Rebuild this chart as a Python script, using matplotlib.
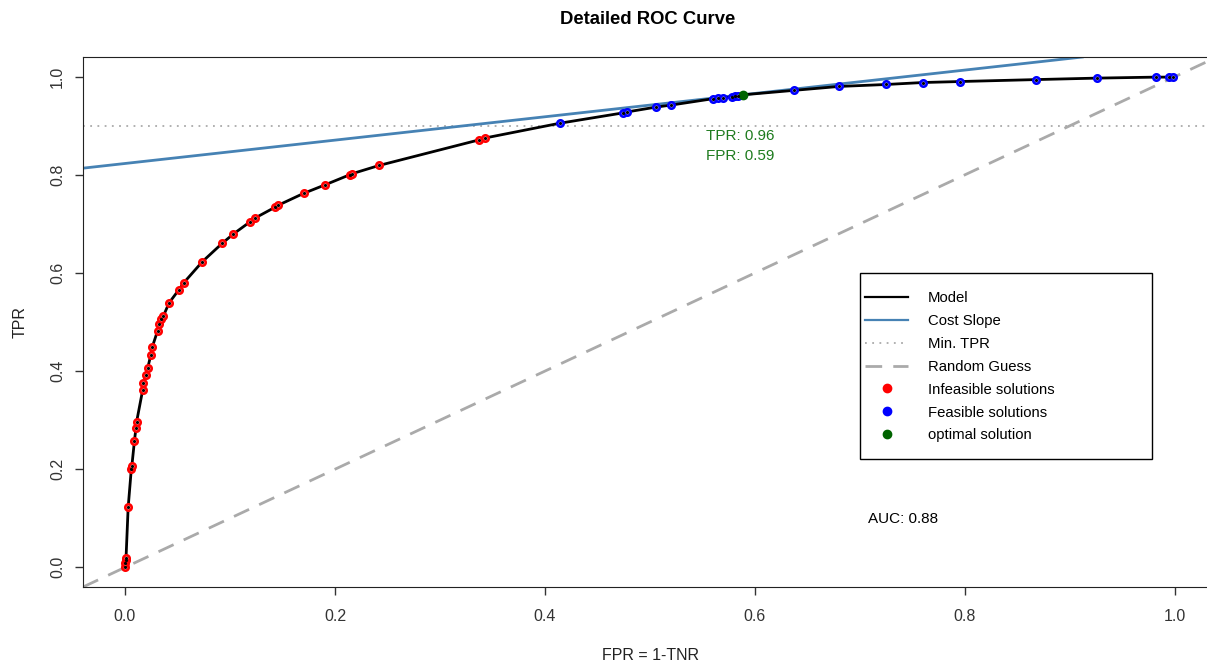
import matplotlib.pyplot as plt
from matplotlib.lines import Line2D
from matplotlib.patches import Rectangle

plt.rcParams['font.family'] = ['Liberation Sans', 'DejaVu Sans']

# ROC points
infeasible_fpr = [0.0, 0.0, 0.0005, 0.001, 0.003, 0.006, 0.0065, 0.009, 0.0105, 0.011,
                  0.0168, 0.0175, 0.0197, 0.0216, 0.0245, 0.026, 0.031, 0.0327,
                  0.0343, 0.0365, 0.042, 0.0514, 0.056, 0.0737, 0.0924, 0.103,
                  0.119, 0.124, 0.143, 0.146, 0.170, 0.190, 0.214, 0.216, 0.242,
                  0.337, 0.343]
infeasible_tpr = [0.0, 0.008, 0.015, 0.02, 0.122, 0.200, 0.206, 0.258, 0.285, 0.296,
                  0.361, 0.375, 0.392, 0.406, 0.432, 0.449, 0.482, 0.495,
                  0.506, 0.512, 0.539, 0.566, 0.580, 0.623, 0.660, 0.679,
                  0.704, 0.712, 0.734, 0.738, 0.762, 0.779, 0.800, 0.802, 0.819,
                  0.871, 0.875]
feasible_fpr = [0.414, 0.474, 0.478, 0.506, 0.520, 0.560, 0.565, 0.570, 0.578,
                0.581, 0.584, 0.637, 0.680, 0.725, 0.760, 0.795, 0.868, 0.926,
                0.982, 0.994, 0.998]
feasible_tpr = [0.905, 0.926, 0.928, 0.938, 0.942, 0.955, 0.956, 0.957, 0.959,
                0.961, 0.961, 0.972, 0.980, 0.984, 0.988, 0.990, 0.994, 0.997,
                0.999, 0.999, 0.999]
optimal_fpr = 0.589
optimal_tpr = 0.963
cost_intercept = 0.823
cost_slope = 0.238
min_tpr = 0.9
auc = 0.88

model_fpr = infeasible_fpr + feasible_fpr[:11] + [optimal_fpr] + feasible_fpr[11:] + [1.0]
model_tpr = infeasible_tpr + feasible_tpr[:11] + [optimal_tpr] + feasible_tpr[11:] + [1.0]

W, H = 1207, 664
fig = plt.figure(figsize=(W / 100, H / 100), dpi=100)
ax = fig.add_axes([83 / W, 77 / H, 1134 / W, 530 / H])

ax.axline((0, 0), slope=1, color='#aaaaaa', lw=2, ls=(0, (6, 4)), zorder=1)
ax.axhline(min_tpr, color='#aaaaaa', lw=1.3, ls=(0, (1, 3)), zorder=1)
ax.axline((0, cost_intercept), slope=cost_slope, color='#4682b4', lw=2, zorder=2)
ax.plot(model_fpr, model_tpr, color='black', lw=2, zorder=3)

ring = dict(ls='none', marker='o', ms=4.6, mfc='white', mew=1.9, zorder=4)
ax.plot(infeasible_fpr, infeasible_tpr, mec='red', **ring)
ax.plot(feasible_fpr, feasible_tpr, mec='blue', **ring)
ax.plot(optimal_fpr, optimal_tpr, ls='none', marker='o', ms=6, color='#006400', zorder=5)
ax.plot(infeasible_fpr + feasible_fpr, infeasible_tpr + feasible_tpr, ls='none',
        marker='o', ms=1.3, color='black', zorder=5)

ax.text(optimal_fpr - 0.003, 0.88, 'TPR: 0.96', color='#1e7b1e', fontsize=11,
        ha='center', va='center')
ax.text(optimal_fpr - 0.003, 0.839, 'FPR: 0.59', color='#1e7b1e', fontsize=11,
        ha='center', va='center')
ax.text(0.741, 0.098, 'AUC: %.2f' % auc, color='black', fontsize=11,
        ha='center', va='center')

ax.set_xlim(-0.04, 1.04)
ax.set_ylim(-0.04, 1.04)
ticks = [0.0, 0.2, 0.4, 0.6, 0.8, 1.0]
tick_labels = ['0.0', '0.2', '0.4', '0.6', '0.8', '1.0']
ax.set_xticks(ticks)
ax.set_yticks(ticks)
ax.set_xticklabels(tick_labels)
ax.set_yticklabels(tick_labels, rotation=90, va='center')
ax.tick_params(length=6, width=1, labelsize=11.5, colors='#333333', pad=7)
ax.tick_params(axis='x', pad=10)
for s in ax.spines.values():
    s.set_color('#222222')

fig.text(648 / W, 1 - 19 / H, 'Detailed ROC Curve', fontsize=13.3, fontweight='bold',
         ha='center', va='center')
fig.text(650 / W, 1 - 655 / H, 'FPR = 1-TNR', fontsize=11.5, color='#222222',
         ha='center', va='center')
fig.text(20 / W, 1 - 322 / H, 'TPR', fontsize=11.5, color='#222222', rotation=90,
         ha='center', va='center')

handles = [
    Line2D([], [], color='black', lw=1.6),
    Line2D([], [], color='#4682b4', lw=1.6),
    Line2D([], [], color='#aaaaaa', lw=1.3, ls=(0, (1, 3))),
    Line2D([], [], color='#aaaaaa', lw=2, ls=(0, (6, 4))),
    Line2D([], [], ls='none', marker='o', ms=6, color='red'),
    Line2D([], [], ls='none', marker='o', ms=6, color='blue'),
    Line2D([], [], ls='none', marker='o', ms=6, color='#006400'),
]
labels = ['Model', 'Cost Slope', 'Min. TPR', 'Random Guess',
          'Infeasible solutions', 'Feasible solutions', 'optimal solution']
ax.add_patch(Rectangle((777 / 1134, 128 / 530), 292 / 1134, 186 / 530,
                       transform=ax.transAxes, fill=True, facecolor='white',
                       edgecolor='black', lw=1, zorder=6))
leg = ax.legend(handles, labels, loc='upper left',
                bbox_to_anchor=((865 - 83) / 1134, (587 - 291) / 530),
                fontsize=10.7, frameon=False, handlelength=2.9, handletextpad=1.35,
                labelspacing=0.6, borderpad=0, borderaxespad=0)
leg.set_zorder(7)

fig.savefig('out.png', dpi=100)
